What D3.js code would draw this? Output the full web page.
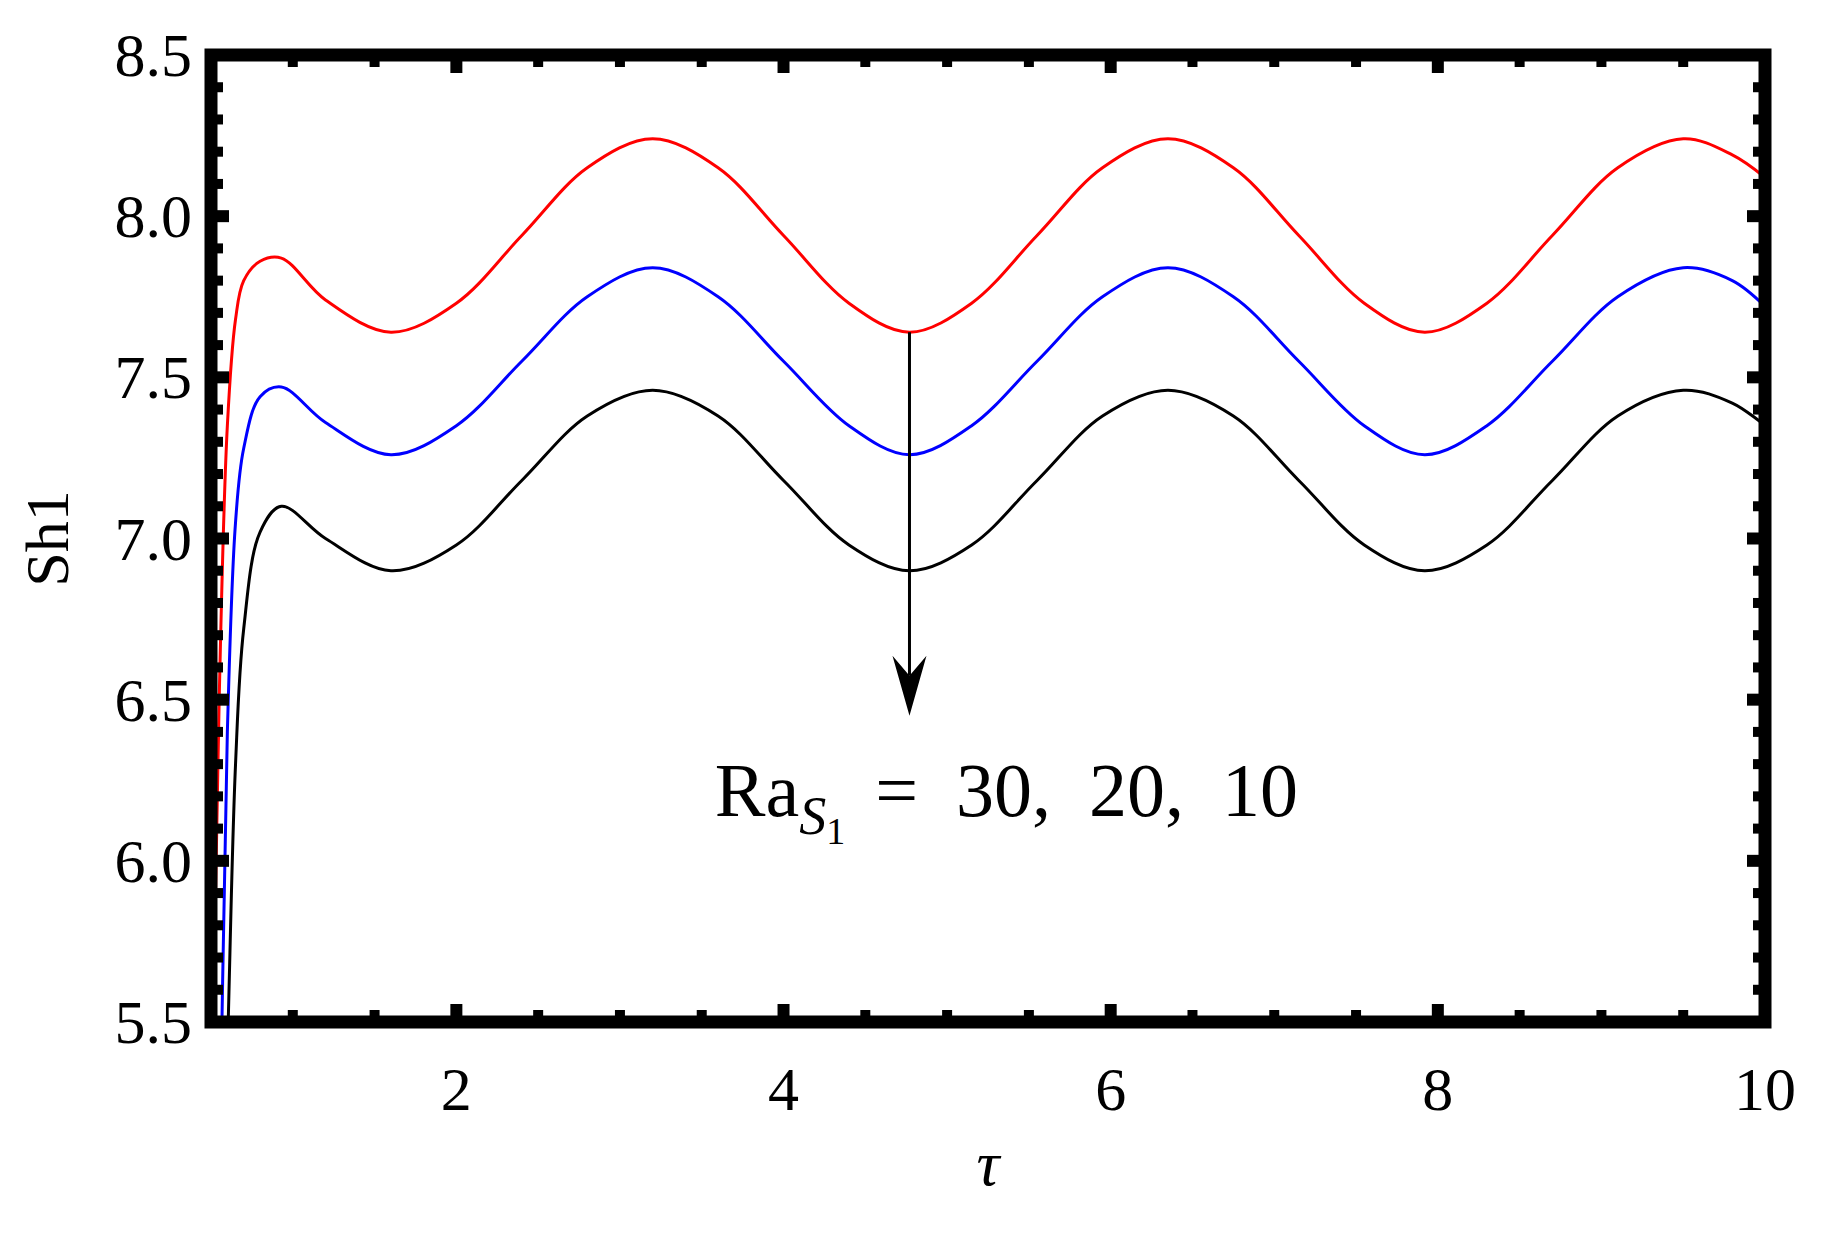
<!DOCTYPE html>
<html>
<head>
<meta charset="utf-8">
<script src="https://cdn.jsdelivr.net/npm/d3@7"></script>
<style>body{margin:0;background:#fff;} text{font-family:"Liberation Serif","DejaVu Serif",serif;white-space:pre;}</style>
</head>
<body>
<svg id="chart" width="1827" height="1248"></svg>
<script>
// tau sample points
var tau = [0.5,0.55,0.6,0.65,0.7,0.8,0.93,1.2,1.6,2.0,2.4,2.8,3.2,3.6,4.0,4.4,4.77,5.15,5.55,5.95,6.35,6.75,7.15,7.55,7.92,8.3,8.7,9.1,9.5,9.8,10];
var sh30 = [5.0,6.5,7.35,7.68,7.8,7.86,7.87,7.74,7.64,7.73,7.94,8.15,8.24,8.15,7.94,7.73,7.64,7.73,7.94,8.15,8.24,8.15,7.94,7.73,7.64,7.73,7.94,8.15,8.24,8.19,8.12];
var sh20 = [4.0,5.0,6.4,7.05,7.28,7.44,7.47,7.36,7.26,7.35,7.55,7.75,7.84,7.75,7.55,7.35,7.26,7.35,7.55,7.75,7.84,7.75,7.55,7.35,7.26,7.35,7.55,7.75,7.84,7.80,7.72];
var sh10 = [3.5,4.5,5.4,6.3,6.72,7.02,7.10,7.0,6.90,6.98,7.18,7.38,7.46,7.38,7.18,6.98,6.90,6.98,7.18,7.38,7.46,7.38,7.18,6.98,6.90,6.98,7.18,7.38,7.46,7.42,7.35];
var seriesList = [{v: sh30, c: "red"}, {v: sh20, c: "blue"}, {v: sh10, c: "black"}];
var xTicks = [2,4,6,8,10];
var yTicks = [5.5,6.0,6.5,7.0,7.5,8.0,8.5];

var L = 211, R = 1765, T = 55, B = 1022;
var svg = d3.select("#chart");
var x = d3.scaleLinear().domain([0.5,10]).range([L,R]);
var y = d3.scaleLinear().domain([5.5,8.5]).range([B,T]);

svg.append("clipPath").attr("id","clip").append("rect")
    .attr("x",L).attr("y",T).attr("width",R-L).attr("height",B-T);

var line = d3.line().x(function(d){return x(d[0]);}).y(function(d){return y(d[1]);}).curve(d3.curveCatmullRom.alpha(0.5));
seriesList.forEach(function(s){
    svg.append("path").attr("clip-path","url(#clip)")
        .attr("d", line(tau.map(function(t,i){return [t, s.v[i]];})))
        .attr("fill","none").attr("stroke",s.c).attr("stroke-width",3);
});

// ticks on all four sides, pointing inward
var xMinor = d3.range(1,10.01,0.5).filter(function(d){return xTicks.indexOf(d)<0;});
var yMinor = d3.range(5.6,8.45,0.1).map(function(d){return +d.toFixed(1);}).filter(function(d){return yTicks.indexOf(d)<0;});
function tickX(v,len,w){
    [B,T].forEach(function(edge,k){
        svg.append("line").attr("x1",x(v)).attr("x2",x(v))
            .attr("y1",edge).attr("y2",k==0?edge-len:edge+len)
            .attr("stroke","black").attr("stroke-width",w);
    });
}
function tickY(v,len,w){
    [L,R].forEach(function(edge,k){
        svg.append("line").attr("y1",y(v)).attr("y2",y(v))
            .attr("x1",edge).attr("x2",k==0?edge+len:edge-len)
            .attr("stroke","black").attr("stroke-width",w);
    });
}
xTicks.forEach(function(d){tickX(d,18,12);});
xMinor.forEach(function(d){tickX(d,12,10);});
yTicks.forEach(function(d){tickY(d,18,12);});
yMinor.forEach(function(d){tickY(d,12,10);});

svg.append("rect").attr("x",L).attr("y",T).attr("width",R-L).attr("height",B-T)
    .attr("fill","none").attr("stroke","black").attr("stroke-width",13);

svg.selectAll(".xl").data(xTicks).enter().append("text")
    .attr("x",function(d){return x(d);}).attr("y",1110)
    .attr("text-anchor","middle").attr("font-size",62).text(function(d){return d;});
svg.selectAll(".yl").data(yTicks).enter().append("text")
    .attr("x",192).attr("y",function(d){return y(d)+21;})
    .attr("text-anchor","end").attr("font-size",62).text(function(d){return d.toFixed(1);});

svg.append("text").attr("transform","translate(68,"+((T+B)/2)+") rotate(-90)")
    .attr("text-anchor","middle").attr("font-size",62).text("Sh1");
svg.append("text").attr("x",(L+R)/2).attr("y",1185).attr("text-anchor","middle")
    .attr("font-size",64).attr("font-style","italic").text("τ");

// annotation arrow
var ax = x(4.77), ay1 = y(7.64), ay2 = y(6.45);
svg.append("line").attr("x1",ax).attr("x2",ax).attr("y1",ay1).attr("y2",ay2-40)
    .attr("stroke","black").attr("stroke-width",3);
svg.append("path").attr("d","M"+(ax-17)+","+(ay2-60)+" L"+ax+","+(ay2-40)+" L"+(ax+17)+","+(ay2-60)+" L"+ax+","+ay2+" Z")
    .attr("fill","black");

var ann = svg.append("text").attr("x",x(3.58)).attr("y",y(6.14)).attr("font-size",76);
ann.append("tspan").text("Ra");
ann.append("tspan").attr("dy",18).attr("font-size",54).attr("font-style","italic").text("S");
ann.append("tspan").attr("dy",10).attr("font-size",38).text("1");
ann.append("tspan").attr("dy",-28).attr("dx",30).text("=  30,  20,  10");
</script>
</body>
</html>
